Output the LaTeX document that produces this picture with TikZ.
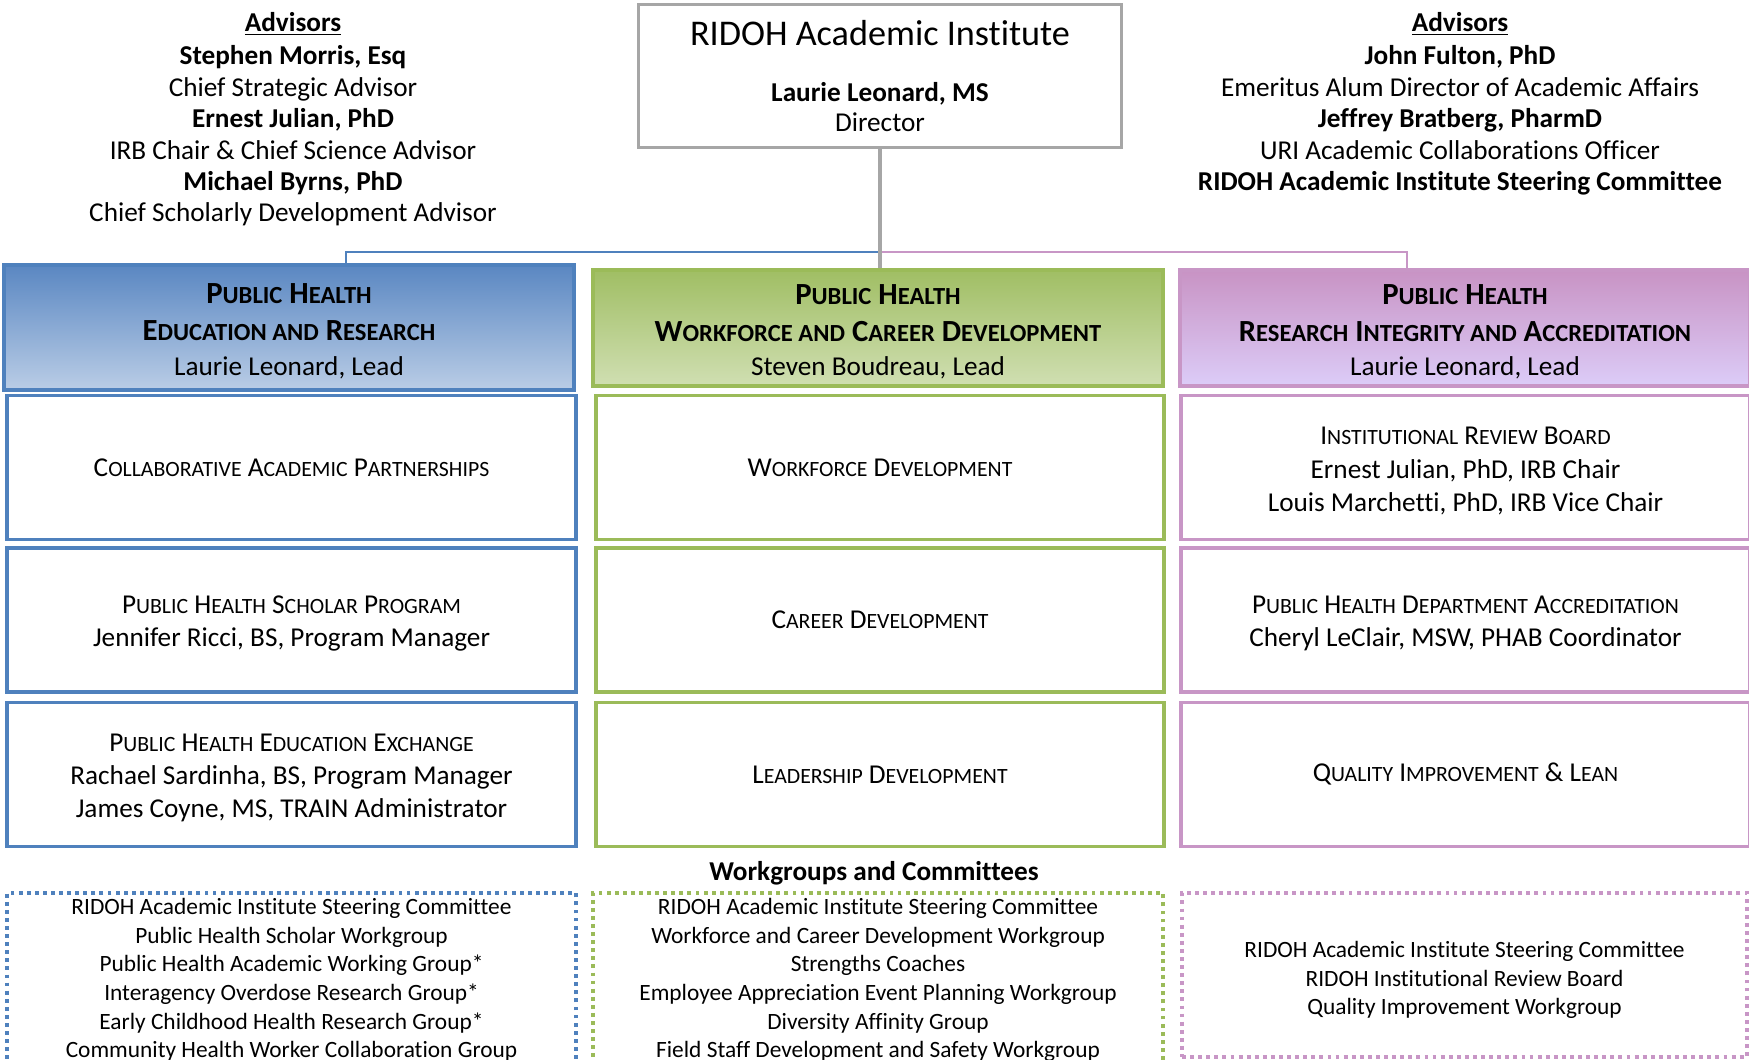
\documentclass[tikz,border=0pt]{standalone}
\usepackage{fontspec}
\setmainfont{Carlito}[Ligatures=NoCommon]
\makeatletter
\newlength\lcsz
% word-style small caps: lower part at 0.8 of the size
\newcommand\lc[1]{{\lcsz=\f@size pt\lcsz=0.8\lcsz\fontsize{\strip@pt\lcsz}{\f@baselineskip}\selectfont #1}}
\makeatother
\newcommand\hstrut{\rule{0pt}{15.7pt}}
\newcommand\ustrut{\rule{0pt}{14pt}}
\definecolor{edublue}{HTML}{4F81BD}
\definecolor{edutop}{HTML}{5A87C2}
\definecolor{edubot}{HTML}{BACDE6}
\definecolor{wfgreen}{HTML}{9BBB59}
\definecolor{wftop}{HTML}{A0BE64}
\definecolor{wfbot}{HTML}{D0DFB2}
\definecolor{ripink}{HTML}{C896C6}
\definecolor{ritop}{HTML}{C893C4}
\definecolor{ribot}{HTML}{DCCCF8}
\definecolor{boxgray}{HTML}{A6A6A6}

\begin{document}
\begin{tikzpicture}[x=0.02cm, y=-0.02cm,
  txt/.style={align=center, inner sep=0pt, font=\fontsize{15.5}{17.9}\selectfont},
  top_box/.style={draw=boxgray, line width=1.8pt, fill=white, align=center, inner sep=0pt,
    minimum width=9.66cm, minimum height=2.87cm, font=\fontsize{15.5}{17}\selectfont},
  head/.style={line width=1.8pt, align=center, inner sep=0pt, minimum height=2.32cm, minimum width=11.4cm,
    font=\fontsize{17.5}{21}\selectfont},
  head_blue/.style={head, draw=edublue, top color=edutop, bottom color=edubot, minimum height=2.5cm},
  head_green/.style={head, draw=wfgreen, top color=wftop, bottom color=wfbot},
  head_pink/.style={head, draw=ripink, top color=ritop, bottom color=ribot},
  unit/.style={line width=1.8pt, fill=white, align=center, inner sep=0pt, minimum height=2.88cm,
    minimum width=11.38cm, font=\fontsize{15.5}{19}\selectfont},
  unit_blue/.style={unit, draw=edublue},
  unit_green/.style={unit, draw=wfgreen, minimum width=11.36cm},
  unit_pink/.style={unit, draw=ripink},
  group/.style={line width=2.2pt, dash pattern=on 2.2pt off 2.4pt, inner sep=0pt},
  group_blue/.style={group, draw=edublue, minimum width=11.38cm, minimum height=3.74cm},
  group_green/.style={group, draw=wfgreen, minimum width=11.4cm, minimum height=3.74cm},
  group_pink/.style={group, draw=ripink, minimum width=11.3cm, minimum height=3.28cm},
  list/.style={txt, font=\fontsize{13.3}{16.3}\selectfont}]

\useasboundingbox (0,0) rectangle (1749,1060);

% advisors
\node[txt, anchor=north] (advl) at (293,12) {\textbf{\underline{Advisors}}\\[1pt]
  \textbf{Stephen Morris, Esq}\\ Chief Strategic Advisor\\
  \textbf{Ernest Julian, PhD}\\ IRB Chair \& Chief Science Advisor\\
  \textbf{Michael Byrns, PhD}\\ Chief Scholarly Development Advisor};
\node[txt, anchor=north] (advr) at (1460,12) {\textbf{\underline{Advisors}}\\[1pt]
  \textbf{John Fulton, PhD}\\ Emeritus Alum Director of Academic Affairs\\
  \textbf{Jeffrey Bratberg, PharmD}\\ URI Academic Collaborations Officer\\
  \textbf{RIDOH Academic Institute Steering Committee}};

\node[top_box] (ridoh) at (880,76) {{\fontsize{20.6}{24}\selectfont RIDOH Academic Institute}\\[15pt]
  \textbf{Laurie Leonard, MS}\\ Director};

% the three areas
\node[head_blue] (edu) at (289,327.5) {\hstrut\textbf{P\lc{UBLIC} H\lc{EALTH}}\\
  \textbf{E\lc{DUCATION AND} R\lc{ESEARCH}}\\[-1.3pt] {\fontsize{15.5}{19}\selectfont Laurie Leonard, Lead}};
\node[head_green] (wcd) at (878,328) {\hstrut\textbf{P\lc{UBLIC} H\lc{EALTH}}\\
  \textbf{W\lc{ORKFORCE AND} C\lc{AREER} D\lc{EVELOPMENT}}\\[-1.3pt] {\fontsize{15.5}{19}\selectfont Steven Boudreau, Lead}};
\node[head_pink] (ria) at (1465,328) {\hstrut\textbf{P\lc{UBLIC} H\lc{EALTH}}\\
  \textbf{R\lc{ESEARCH} I\lc{NTEGRITY AND} A\lc{CCREDITATION}}\\[-1.3pt] {\fontsize{15.5}{19}\selectfont Laurie Leonard, Lead}};

\node[unit_blue] (cap) at (291.5,467.5) {C\lc{OLLABORATIVE} A\lc{CADEMIC} P\lc{ARTNERSHIPS}};
\node[unit_blue] (phsp) at (291.5,620) {\ustrut P\lc{UBLIC} H\lc{EALTH} S\lc{CHOLAR} P\lc{ROGRAM}\\ Jennifer Ricci, BS, Program Manager};
\node[unit_blue] (phee) at (291.5,774.5) {\ustrut P\lc{UBLIC} H\lc{EALTH} E\lc{DUCATION} E\lc{XCHANGE}\\
  Rachael Sardinha, BS, Program Manager\\ James Coyne, MS, TRAIN Administrator};

\node[unit_green] (wfd) at (880,467.5) {W\lc{ORKFORCE} D\lc{EVELOPMENT}};
\node[unit_green] (crd) at (880,620) {C\lc{AREER} D\lc{EVELOPMENT}};
\node[unit_green] (ldd) at (880,774.5) {L\lc{EADERSHIP} D\lc{EVELOPMENT}};

\node[unit_pink] (irb) at (1465.5,467.5) {\ustrut I\lc{NSTITUTIONAL} R\lc{EVIEW} B\lc{OARD}\\
  Ernest Julian, PhD, IRB Chair\\ Louis Marchetti, PhD, IRB Vice Chair};
\node[unit_pink] (phda) at (1465.5,620) {\ustrut P\lc{UBLIC} H\lc{EALTH} D\lc{EPARTMENT} A\lc{CCREDITATION}\\
  Cheryl LeClair, MSW, PHAB Coordinator};
\node[unit_pink] (qil) at (1465.5,774.5) {Q\lc{UALITY} I\lc{MPROVEMENT} \& L\lc{EAN}};

% workgroups
\node[txt, font=\bfseries\fontsize{15.5}{19}\selectfont] (wgc) at (874,873) {Workgroups and Committees};

\node[group_blue] (grpa) at (291.5,986.5) {};
\node[group_green] (grpb) at (878,986.5) {};
\node[group_pink] (grpc) at (1464.5,975) {};
\node[list, anchor=north] (lista) at (grpa.north |- 0,898) {RIDOH Academic Institute Steering Committee\\
  Public Health Scholar Workgroup\\ Public Health Academic Working Group*\\
  Interagency Overdose Research Group*\\ Early Childhood Health Research Group*\\
  Community Health Worker Collaboration Group};
\node[list, anchor=north] (listb) at (grpb.north |- 0,898) {RIDOH Academic Institute Steering Committee\\
  Workforce and Career Development Workgroup\\ Strengths Coaches\\
  Employee Appreciation Event Planning Workgroup\\ Diversity Affinity Group\\
  Field Staff Development and Safety Workgroup};
\node[list] (listc) at (1464.5,980) {RIDOH Academic Institute Steering Committee\\
  RIDOH Institutional Review Board\\ Quality Improvement Workgroup};

% connectors
\coordinate (jn) at (880,252);
\coordinate (ja) at (346,252);
\coordinate (jc) at (1407,252);
\draw[edublue, line width=1.2pt] (jn) -- (ja) -- (ja |- edu.north);
\draw[ripink, line width=1.2pt] (jn) -- (jc) -- (jc |- ria.north);
\draw[boxgray, line width=1.8pt] (ridoh.south) -- (ridoh.south |- wcd.north);

\end{tikzpicture}
\end{document}
